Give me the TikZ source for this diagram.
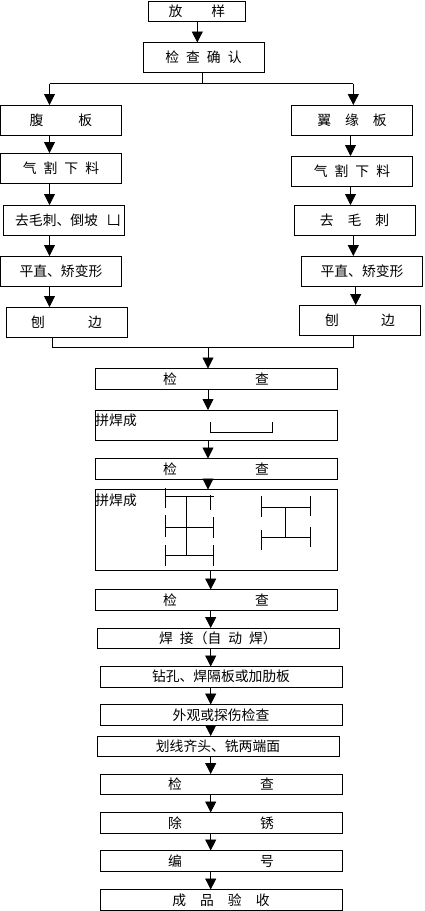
\documentclass[tikz,border=0pt]{standalone}
\usepackage{xcolor}
\usepackage{fontspec}
\setmainfont{Noto Sans CJK SC}
\usetikzlibrary{arrows.meta, positioning}

\tikzset{
    stepbase/.style={draw, line width=0.8pt, outer sep=0pt, inner sep=0pt, font=\fontsize{13.8}{16}\selectfont},
    narrowbox/.style={stepbase, minimum width=121pt, minimum height=30pt},
    widebox/.style={stepbase, minimum width=242pt, minimum height=20.5pt},
    section/.style={line width=0.8pt},
    >={Triangle[length=11pt,width=11pt]}
}

\begin{document}
\begin{tikzpicture}[x=1pt, y=-1pt, line width=0.8pt]
                \useasboundingbox (0,0) rectangle (424,911);

                \node[stepbase, minimum width=97pt, minimum height=20pt] (fangyang) at (197,11.5) {放\hspace{29pt}样};
                \node[narrowbox] (queren) [below=21pt of fangyang, xshift=6.5pt] {检\hspace{7pt}查\hspace{7pt}确\hspace{7pt}认};

                % left column
                \node[narrowbox] (fuban) [below=32.5pt of queren, xshift=-142.5pt] {腹\hspace{35pt}板};
                \node[narrowbox] (qiegeL) [below=18pt of fuban] {气\hspace{7pt}割\hspace{7pt}下\hspace{7pt}料};
                \node[narrowbox] (quciL) [below=22pt of qiegeL, xshift=3pt] {\hspace{8pt}去毛刺、倒坡\hspace{9pt}凵};
                \node[narrowbox] (pingL) [below=21pt of quciL, xshift=-3pt] {平直、矫变形};
                \node[narrowbox] (baoL) [below=21pt of pingL, xshift=5.5pt] {刨\hspace{43pt}边};

                % right column
                \node[narrowbox] (yiyuan) [below=32.5pt of queren, xshift=148.5pt] {翼\hspace{14pt}缘\hspace{14pt}板};
                \node[narrowbox] (qiegeR) [below=21pt of yiyuan] {气\hspace{7pt}割\hspace{7pt}下\hspace{7pt}料};
                \node[narrowbox] (quciR) [below=19pt of qiegeR, xshift=2.5pt] {去\hspace{14pt}毛\hspace{14pt}刺};
                \node[narrowbox] (pingR) [below=21pt of quciR, xshift=7.5pt] {平直、矫变形};
                \node[narrowbox] (baoR) [below=19pt of pingR, xshift=-2pt] {刨\hspace{42pt}边};

                % middle column
                \node[widebox] (checkA) [below=31.5pt of baoL, xshift=149.5pt] {检\hspace{78pt}查};
                \node[widebox, minimum height=30pt] (weldA) [below=21pt of checkA] {};
                \node[widebox] (checkB) [below=18.5pt of weldA] {检\hspace{78pt}查};
                \node[widebox, minimum height=80.5pt] (weldB) [below=10.5pt of checkB] {};
                \node[widebox] (checkC) [below=19.5pt of weldB] {检\hspace{78pt}查};
                \node[widebox] (hanjie) [below=18pt of checkC, xshift=2pt] {焊\hspace{7pt}接（自\hspace{7pt}动\hspace{7pt}焊）};
                \node[widebox] (zuankong) [below=18pt of hanjie, xshift=3pt] {钻孔、焊隔板或加肋板};
                \node[widebox] (waiguan) [below=17.5pt of zuankong] {外观或探伤检查};
                \node[widebox] (huaxian) [below=11pt of waiguan, xshift=-3pt] {划线齐头、铣两端面};
                \node[widebox] (checkD) [below=17.5pt of huaxian, xshift=3pt] {检\hspace{78pt}查};
                \node[widebox] (chuxiu) [below=18pt of checkD] {除\hspace{78pt}锈};
                \node[widebox] (bianhao) [below=17.5pt of chuxiu] {编\hspace{78pt}号};
                \node[widebox] (chengpin) [below=18.5pt of bianhao] {成\hspace{14pt}品\hspace{14pt}验\hspace{14pt}收};

                \node[font=\fontsize{13.8}{16}\selectfont, inner sep=0pt, anchor=west] (labelA) at ([yshift=-10.5pt]weldA.north west) {拼焊成};
                \node[font=\fontsize{13.8}{16}\selectfont, inner sep=0pt, anchor=west] (labelB) at ([yshift=-11pt]weldB.north west) {拼焊成};

                \coordinate (split) at (202.5,83.5);
                \coordinate (splitL) at (49.5,83.5);
                \coordinate (splitR) at (353.3,83.5);
                \coordinate (mergeL) at (52,347);
                \coordinate (mergeM) at (208,347);
                \coordinate (mergeR) at (353,347);
                \coordinate (colA) at (197.3,0);
                \coordinate (colB) at (350.5,0);
                \coordinate (colC) at (355.7,0);
                \coordinate (colD) at (210.7,0);

                \draw (queren.south -| split) -- (split);
                \draw (splitL) -- (splitR);
                \draw (baoL.south -| mergeL) -- (mergeL) -- (mergeR) -- (baoR.south -| mergeR);

                \path[->]
                (fangyang.south -| colA) edge (queren.north -| colA)
                (splitL) edge (fuban.north -| splitL)
                (splitR) edge (yiyuan.north -| splitR)

                % left
                (fuban.south -| splitL) edge (qiegeL.north -| splitL)
                (qiegeL.south -| splitL) edge (quciL.north -| splitL)
                (quciL.south -| splitL) edge (pingL.north -| splitL)
                (pingL.south -| splitL) edge (baoL.north -| splitL)

                % right
                (yiyuan.south -| colB) edge (qiegeR.north -| colB)
                (qiegeR.south -| colB) edge (quciR.north -| colB)
                (quciR.south -| splitR) edge (pingR.north -| splitR)
                (pingR.south -| colC) edge (baoR.north -| colC)

                % middle
                (mergeM) edge (checkA.north -| mergeM)
                (checkA.south -| mergeM) edge (weldA.north -| mergeM)
                (weldA.south -| mergeM) edge (checkB.north -| mergeM)
                (checkB.south -| mergeM) edge (weldB.north -| mergeM)
                (weldB.south -| colD) edge (checkC.north -| colD)
                (checkC.south -| colD) edge (hanjie.north -| colD)
                (hanjie.south -| colD) edge (zuankong.north -| colD)
                (zuankong.south -| colD) edge (waiguan.north -| colD)
                (waiguan.south -| colD) edge (huaxian.north -| colD)
                (huaxian.south -| colD) edge (checkD.north -| colD)
                (checkD.south -| colD) edge (chuxiu.north -| colD)
                (chuxiu.south -| colD) edge (bianhao.north -| colD)
                (bianhao.south -| colD) edge (chengpin.north -| colD);

                % sections
                \draw[section] (210,422) -- (210,432.5) -- (272.7,432.5);
                \draw[section] (272.7,422) -- (272.7,433);

                \foreach \ya/\yb/\yh in {488/508/496, 515/537/527.3, 545/566/555}
                    \draw[section] (165,\ya) -- (165,\yb) (165,\yh) -- (213.5,\yh);
                \draw[section] (210.7,495) -- (210.7,510);
                \draw[section] (213.5,517) -- (213.5,538);
                \draw[section] (213.5,545) -- (213.5,566);
                \draw[section] (186,496) -- (186,556);

                \draw[section] (261.3,496) -- (261.3,517);
                \draw[section] (261.3,530) -- (261.3,550);
                \draw[section] (310,496) -- (310,516);
                \draw[section] (310,527) -- (310,547);
                \draw[section] (261.3,507.3) -- (310,507.3);
                \draw[section] (261.3,537.7) -- (310,537.7);
                \draw[section] (285.3,507.3) -- (285.3,537.7);
            \end{tikzpicture}
\end{document}
